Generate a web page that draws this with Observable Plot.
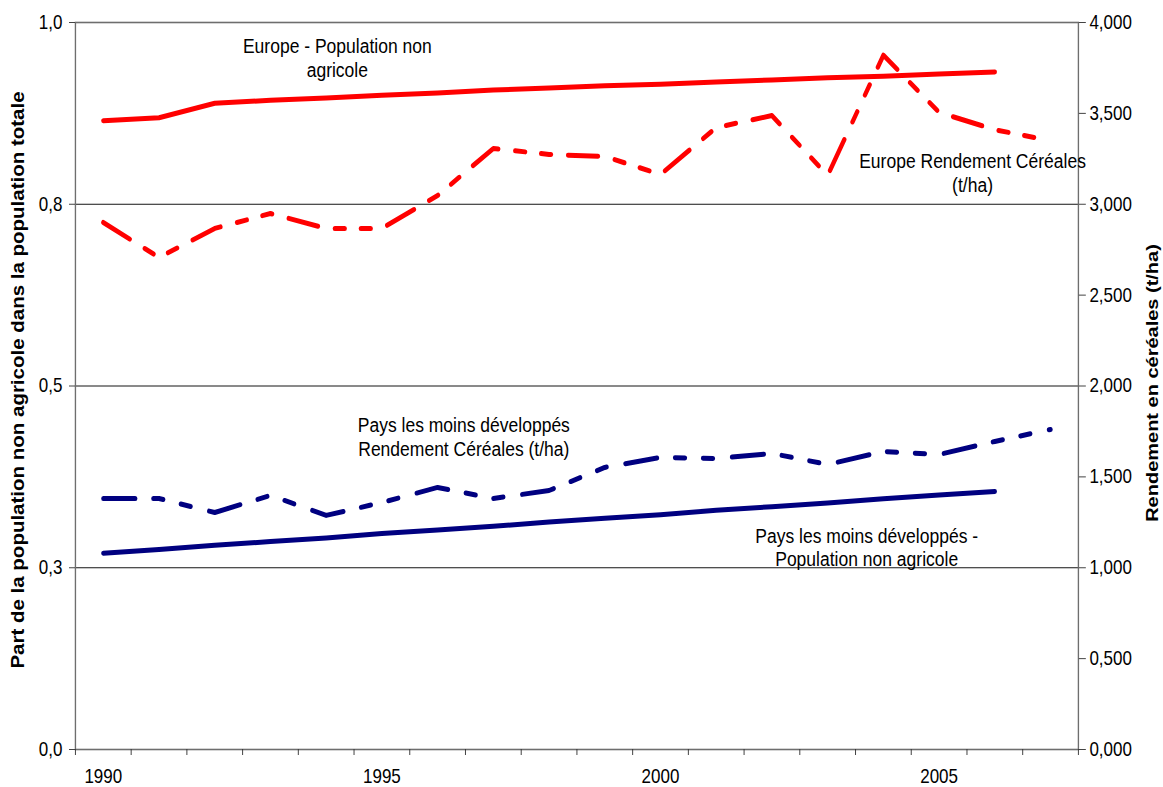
<!DOCTYPE html>
<html>
<head>
<meta charset="utf-8">
<script src="https://cdn.jsdelivr.net/npm/d3@7"></script>
<script src="https://cdn.jsdelivr.net/npm/@observablehq/plot@0.6"></script>
<style>
  html, body { margin: 0; padding: 0; background: #fff; overflow: hidden; }
  #chart svg { display: block; }
</style>
</head>
<body>
<div id="chart"></div>
<script>
// ---- Data ----
const years = [1990,1991,1992,1993,1994,1995,1996,1997,1998,1999,2000,2001,2002,2003,2004,2005,2006,2007];

// Part de la population non agricole (left axis, 0–1), 1990–2006
const europePop = [0.865,0.869,0.889,0.893,0.896,0.900,0.903,0.907,0.910,0.913,0.915,0.918,0.921,0.924,0.926,0.929,0.932];
const pmaPop    = [0.270,0.275,0.281,0.286,0.291,0.297,0.302,0.307,0.313,0.318,0.323,0.329,0.334,0.339,0.345,0.350,0.355];

// Rendement céréales (right axis, t/ha), 1990–2007
const europeYield = [2.900,2.707,2.867,2.949,2.867,2.867,3.048,3.307,3.274,3.263,3.164,3.422,3.488,3.158,3.820,3.505,3.410,3.350];
const pmaYield    = [1.381,1.381,1.304,1.398,1.288,1.359,1.442,1.381,1.425,1.552,1.607,1.601,1.629,1.568,1.640,1.623,1.695,1.761];

// Axes
const leftTicks = [0, 0.25, 0.5, 0.75, 1];
const leftTickLabels = ["0,0", "0,3", "0,5", "0,8", "1,0"];
const gridValues = [0.25, 0.5, 0.75];
const rightTicks = [0, 0.5, 1, 1.5, 2, 2.5, 3, 3.5, 4];
const rightTickLabels = ["0,000","0,500","1,000","1,500","2,000","2,500","3,000","3,500","4,000"];
const yieldMax = 4;
const xTickYears = [1990, 1995, 2000, 2005];
const xTickLabels = ["1990", "1995", "2000", "2005"];
const categoryEdges = [1989.5,1990.5,1991.5,1992.5,1993.5,1994.5,1995.5,1996.5,1997.5,1998.5,1999.5,2000.5,2001.5,2002.5,2003.5,2004.5,2005.5,2006.5,2007.5];

const leftTitle = "Part de la population non agricole dans la population totale";
const rightTitle = "Rendement en céréales (t/ha)";

// ---- Tables built from the arrays ----
const popRows = (vals) => vals.map((v, i) => ({year: years[i], y: v}));
const yieldRows = (vals) => vals.map((v, i) => ({year: years[i], y: v / yieldMax}));

// The reference uses a horizontally condensed Arial look: draw wider, then squeeze horizontally.
const K = 0.85;
const W = 1163, H = 787;
const WU = Math.round(W / K);
const sx = (px) => px / K;

const font = "'Liberation Sans',Arial,sans-serif";
const dashRed = [30, 17, 10, 16, 10, 17].map(sx).join(",");
const dashBlue = [32, 18, 10, 18, 10, 19].map(sx).join(",");
const annSize = 20.6;

const chart = Plot.plot({
  width: WU,
  height: H,
  marginLeft: sx(75),
  marginRight: sx(85),
  marginTop: 22,
  marginBottom: 38,
  x: {domain: [categoryEdges[0], categoryEdges[categoryEdges.length - 1]], label: null},
  y: {domain: [0, 1], label: null},
  style: {fontFamily: font, fontSize: "20px", background: "#fff", color: "#000"},
  marks: [
    Plot.ruleY(gridValues, {stroke: "#000", strokeWidth: 1}),
    Plot.frame({stroke: "#6e6e6e", strokeWidth: 1.6}),
    Plot.axisX(categoryEdges, {tickSize: 6, tickFormat: () => "", stroke: "#333", label: null}),
    Plot.axisX(xTickYears, {tickSize: 0, tickPadding: 19, fontSize: 20, label: null,
      tickFormat: d => xTickLabels[xTickYears.indexOf(d)]}),
    Plot.axisY(leftTicks, {anchor: "left", tickSize: sx(6), tickPadding: sx(7), fontSize: 20, stroke: "#333", label: null,
      tickFormat: d => leftTickLabels[leftTicks.indexOf(d)]}),
    Plot.axisY(rightTicks.map(v => v / yieldMax), {anchor: "right", tickSize: sx(7), tickPadding: sx(4), fontSize: 20, stroke: "#333", label: null,
      tickFormat: d => rightTickLabels[rightTicks.indexOf(Math.round(d * yieldMax * 100) / 100)]}),

    Plot.line(popRows(europePop), {x: "year", y: "y", stroke: "#FF0000", strokeWidth: 5, strokeLinejoin: "round"}),
    Plot.line(yieldRows(europeYield), {x: "year", y: "y", stroke: "#FF0000", strokeWidth: 5, strokeDasharray: dashRed, strokeLinejoin: "round"}),
    Plot.line(popRows(pmaPop), {x: "year", y: "y", stroke: "#000080", strokeWidth: 5, strokeLinejoin: "round"}),
    Plot.line(yieldRows(pmaYield), {x: "year", y: "y", stroke: "#000080", strokeWidth: 5, strokeDasharray: dashBlue, strokeLinejoin: "round"}),

    Plot.text(["Europe - Population non\nagricole"], {x: 1994.2, y: 0.952, text: d => d, fontSize: annSize, lineHeight: 1.15, fill: "#000"}),
    Plot.text(["Europe Rendement Céréales\n(t/ha)"], {x: 2005.6, y: 0.794, text: d => d, fontSize: annSize, lineHeight: 1.15, fill: "#000"}),
    Plot.text(["Pays les moins développés\nRendement Céréales (t/ha)"], {x: 1996.47, y: 0.4305, text: d => d, fontSize: annSize, lineHeight: 1.15, fill: "#000"}),
    Plot.text(["Pays les moins développés -\nPopulation non agricole"], {x: 2003.7, y: 0.2785, text: d => d, fontSize: annSize, lineHeight: 1.15, fill: "#000"}),

    Plot.text([leftTitle], {frameAnchor: "left", textAnchor: "middle", dx: sx(18 - 75), dy: -6, rotate: -90, text: d => d,
      fontWeight: "bold", fontSize: 20.5, fill: "#000"}),
    Plot.text([rightTitle], {frameAnchor: "right", textAnchor: "middle", dx: sx(1152 - 1078), dy: -3, rotate: -90, text: d => d,
      fontWeight: "bold", fontSize: 20, fill: "#000"})
  ]
});
chart.setAttribute("width", W);
chart.setAttribute("height", H);
chart.setAttribute("preserveAspectRatio", "none");
chart.style.width = W + "px";
chart.style.height = H + "px";
chart.style.maxWidth = "none";
document.getElementById("chart").appendChild(chart);
</script>
</body>
</html>
